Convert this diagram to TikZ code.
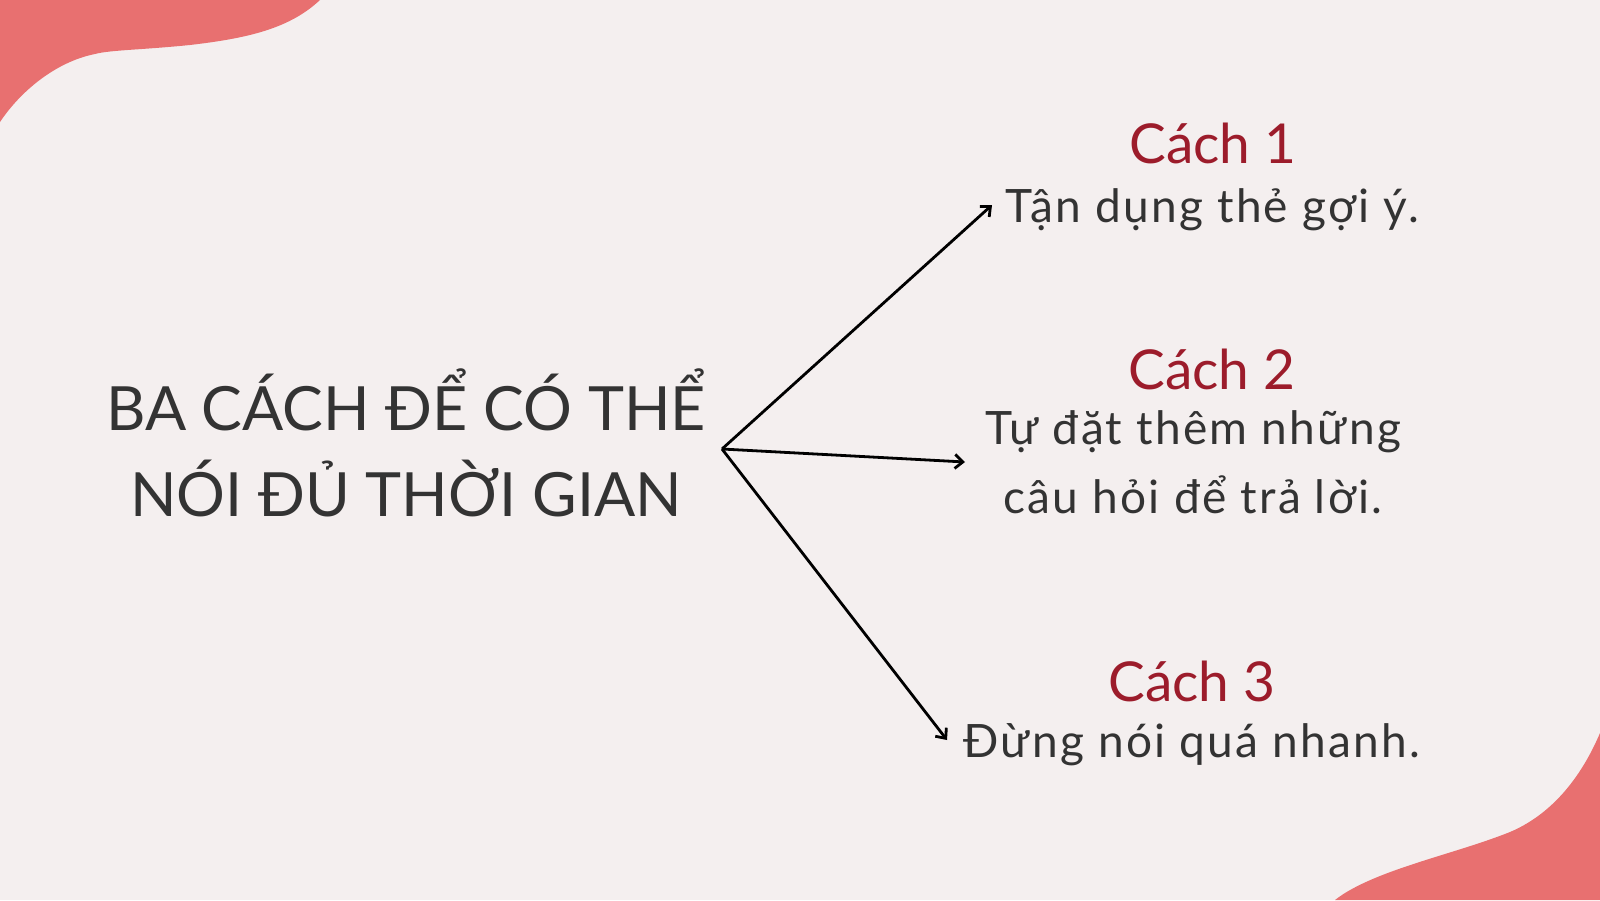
\documentclass[tikz,border=0pt]{standalone}
\usepackage{fontspec}
\setmainfont{Lato}
\newfontfamily\bodyfont[LetterSpace=5]{Lato}
\usetikzlibrary{arrows.meta}
\definecolor{bgc}{HTML}{F4EFEF}
\definecolor{blobc}{HTML}{E87070}
\definecolor{headc}{HTML}{9C1C2B}
\definecolor{txtc}{HTML}{333333}
\tikzset{
  blob/.style={fill=blobc, draw=none},
  titletext/.style={text=txtc, font=\fontsize{30.5}{43}\selectfont, align=center, inner sep=0pt},
  headtext/.style={text=headc, font=\fontsize{27.5}{34}\selectfont, anchor=base, inner sep=0pt},
  bodytext/.style={text=txtc, font=\bodyfont\fontsize{23}{35}\selectfont, anchor=base, inner sep=0pt, align=center},
  link/.style={draw=black, line width=1.4pt, -{Straight Barb[length=4pt,width=7pt,line width=1.4pt]}}
}
\begin{document}
\begin{tikzpicture}[x=0.5pt,y=-0.5pt]
\fill[bgc] (0,0) rectangle (1600,900);
\useasboundingbox (0,0) rectangle (1600,900);
% decorative blobs
\fill[blob] (0,0) -- (320,0) .. controls (290,28) and (250,38) .. (190,45)
  .. controls (140,50) and (110,50) .. (95,54)
  .. controls (55,62) and (20,92) .. (0,122) -- cycle;
\fill[blob] (1600,733) .. controls (1580,780) and (1550,815) .. (1510,832)
  .. controls (1470,848) and (1420,860) .. (1380,876)
  .. controls (1360,884) and (1345,892) .. (1335,900) -- (1600,900) -- cycle;
% title
\node[titletext, anchor=base] (t1) at (406,430) {BA CÁCH ĐỂ CÓ THỂ};
\node[titletext, anchor=base] (t2) at (406,516) {NÓI ĐỦ THỜI GIAN};
% items
\node[headtext] (h1) at (1213,163) {Cách 1};
\node[bodytext] (b1) at (1212,222) {Tận dụng thẻ gợi ý.};
\node[headtext] (h2) at (1212,389) {Cách 2};
\node[bodytext] (b2a) at (1193,444) {Tự đặt thêm những};
\node[bodytext] (b2b) at (1193,513) {câu hỏi để trả lời.};
\node[headtext] (h3) at (1192,701) {Cách 3};
\node[bodytext] (b3) at (1192,757) {Đừng nói quá nhanh.};
% connectors
\coordinate (hub) at (722,449);
\coordinate (e1) at (992,205);
\coordinate (e2) at (965,462);
\coordinate (e3) at (947,740);
\draw[link] (hub) -- (e1);
\draw[link] (hub) -- (e2);
\draw[link] (hub) -- (e3);
\end{tikzpicture}
\end{document}
